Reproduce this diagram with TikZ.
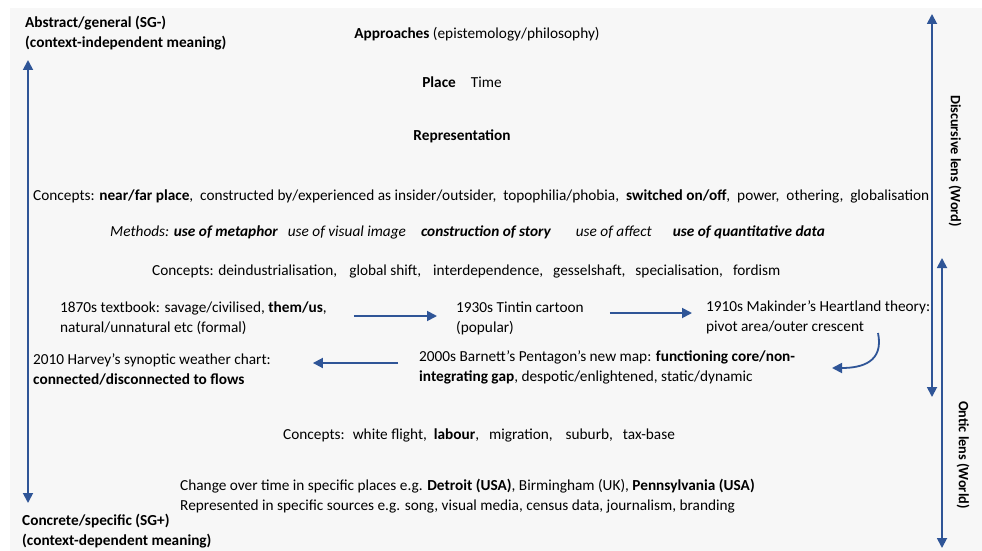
\documentclass[tikz,border=0pt]{standalone}
\usepackage{fontspec}
\setmainfont{Carlito}
\usetikzlibrary{arrows.meta,calc}

\definecolor{arrowblue}{RGB}{47,85,151}
\definecolor{paper}{RGB}{247,247,247}

\tikzset{
  txt/.style={inner sep=0pt, font=\fontsize{15.3}{20}\selectfont, align=left},
  boldtxt/.style={txt, font=\bfseries\fontsize{15.3}{20}\selectfont},
  lens/.style={inner sep=0pt, rotate=-90, font=\bfseries\fontsize{14.3}{20}\selectfont},
  arr/.style={-{Triangle[length=10pt,width=10pt]}, line width=1.8pt, arrowblue},
  dblarr/.style={{Triangle[length=10pt,width=10pt]}-{Triangle[length=10pt,width=10pt]}, line width=1.8pt, arrowblue}
}

\begin{document}
\begin{tikzpicture}[x=1pt,y=-1pt]
\useasboundingbox (0,0) rectangle (982,551);
\fill[paper] (10,8) rectangle (982,551);

\node[boldtxt,anchor=west] (abstract) at (25,33) {Abstract/general (SG-)\\(context-independent meaning)};
\node[txt,anchor=base] (approach) at (477,39) {\textbf{Approaches} (epistemology/philosophy)};
\node[txt,anchor=base] (place) at (462,87) {\textbf{Place}\hspace{15pt}Time};
\node[txt,anchor=base] (repr) at (462,140) {\textbf{Representation}};

\node[txt,anchor=base west] (conceptsa) at (33,200) {Concepts: \textbf{near/far place},~ constructed by/experienced as insider/outsider,~ topophilia/phobia,~ \textbf{switched on/off},~ power,~ othering,~ globalisation};
\node[txt,anchor=base west] (methods) at (110,236) {\itshape Methods: \textbf{use of metaphor}\hspace{10pt}use of visual image\hspace{15pt}\textbf{construction of story}\hspace{25pt}use of affect\hspace{21pt}\textbf{use of quantitative data}};
\node[txt,anchor=base west] (conceptsb) at (152,275) {Concepts: deindustrialisation,\hspace{12pt}global shift,\hspace{12pt}interdependence,\hspace{10pt}gesselshaft,\hspace{10pt}specialisation,\hspace{10pt}fordism};

\node[txt,anchor=west] (textbook) at (60,318) {1870s textbook: savage/civilised, \textbf{them/us},\\natural/unnatural etc (formal)};
\node[txt,anchor=west] (tintin) at (456,318) {1930s Tintin cartoon\\(popular)};
\node[txt,anchor=west] (heartland) at (706,317) {1910s Makinder's Heartland theory:\\pivot area/outer crescent};
\node[txt,anchor=west] (barnett) at (419,367) {2000s Barnett's Pentagon's new map: \textbf{functioning core/non-}\\\textbf{integrating gap}, despotic/enlightened, static/dynamic};
\node[txt,anchor=west] (harvey) at (33,369) {2010 Harvey's synoptic weather chart:\\\textbf{connected/disconnected to flows}};

\node[txt,anchor=base west] (conceptsc) at (283,439) {Concepts:~ white flight,~ \textbf{labour},\hspace{10pt}migration,\hspace{13pt}suburb,\hspace{10pt}tax-base};
\node[txt,anchor=west] (change) at (180,496) {Change over time in specific places e.g. \textbf{Detroit (USA)}, Birmingham (UK), \textbf{Pennsylvania (USA)}\\Represented in specific sources e.g. song, visual media, census data, journalism, branding};
\node[boldtxt,anchor=west] (concrete) at (22,531) {Concrete/specific (SG+)\\(context-dependent meaning)};

\node[lens] (discursive) at (955,161) {Discursive lens (Word)};
\node[lens] (ontic) at (963,455) {Ontic lens (World)};

\coordinate (sgtop) at (28,60);
\coordinate (sgbot) at (28,503);
\coordinate (wordtop) at (932,14);
\coordinate (wordbot) at (932,397);
\coordinate (worldtop) at (942,258);
\coordinate (worldbot) at (942,548);
\coordinate (bendstart) at (878,333);
\coordinate (bendend) at (832,368);

\draw[dblarr] (sgtop) -- (sgbot);
\draw[dblarr] (wordtop) -- (wordbot);
\draw[dblarr] (worldtop) -- (worldbot);

\draw[arr] ($(textbook.east)+(27,-2)$) -- ($(tintin.west)+(-19,-2)$);
\draw[arr] ($(tintin.east)+(26,-5)$) -- ($(heartland.west)+(-14,-4)$);
\draw[arr] (bendstart) .. controls (884,362) and (862,368) .. (bendend);
\draw[arr] ($(barnett.west)+(-21,-4)$) -- ($(harvey.east)+(42,-6)$);
\end{tikzpicture}
\end{document}
